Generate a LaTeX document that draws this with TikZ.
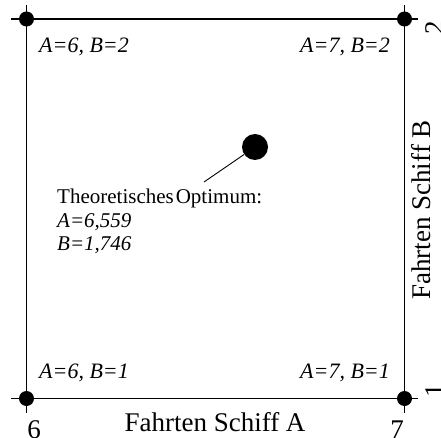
\documentclass[tikz,border=0pt]{standalone}
\usepackage{fontspec}
\setmainfont{Liberation Serif}
\usepackage{tikz}
\usetikzlibrary{positioning}

\begin{document}
\begin{tikzpicture}[x=1pt,y=-1pt,
  corner/.style={circle,fill=black,inner sep=0pt,minimum size=15pt},
  frame/.style={line width=1.3pt},
  pair/.style={font=\fontsize{22}{26}\selectfont\itshape,inner sep=0pt},
  axis/.style={font=\fontsize{27}{32}\selectfont,inner sep=0pt}]
  \useasboundingbox (0,0) rectangle (441,438);

  % corners of the square
  \node[corner] (c62) at (26.5,19) {};
  \node[corner] (c72) at (404.5,19) {};
  \node[corner] (c61) at (26.5,398.5) {};
  \node[corner] (c71) at (404.5,398.5) {};

  % ends of the sides, a little past the corners
  \coordinate (top0) at (11,19);     \coordinate (top1) at (418,19);
  \coordinate (bot0) at (11,398.5);  \coordinate (bot1) at (418,398.5);
  \coordinate (lft0) at (26.5,5);    \coordinate (lft1) at (26.5,413);
  \coordinate (rgt0) at (404.5,5);   \coordinate (rgt1) at (404.5,413);

  \draw[frame] (top0) -- (top1);
  \draw[frame] (bot0) -- (bot1);
  \draw[frame] (lft0) -- (lft1);
  \draw[frame] (rgt0) -- (rgt1);

  \node[pair] (l62) at (84,47) {A=6, B=2};
  \node[pair] (l72) at (345,47) {A=7, B=2};
  \node[pair] (l61) at (84,373) {A=6, B=1};
  \node[pair] (l71) at (345,373) {A=7, B=1};

  % optimum
  \node[circle,fill=black,inner sep=0pt,minimum size=26pt] (opt) at (255,147) {};
  \node[anchor=north west,align=left,inner sep=0pt,
        font=\fontsize{21}{23.5}\selectfont] (optlab) at (57,189)
        {Theoretisches\hspace{2pt}Optimum:\\ \textit{A=6,559}\\ \textit{B=1,746}};
  \coordinate (tip) at (204,182);
  \draw[line width=0.9pt] (opt) -- (tip);

  % axes
  \node[axis] (a6) at (34,430) {6};
  \node[axis] (a7) at (397,430) {7};
  \node[axis] (alab) at (215,422) {Fahrten Schiff A};
  \node[axis,rotate=90] (b2) at (435,28) {2};
  \node[axis,rotate=90] (b1) at (435,391) {1};
  \node[axis,rotate=90] (blab) at (421,210) {Fahrten Schiff B};
\end{tikzpicture}
\end{document}
